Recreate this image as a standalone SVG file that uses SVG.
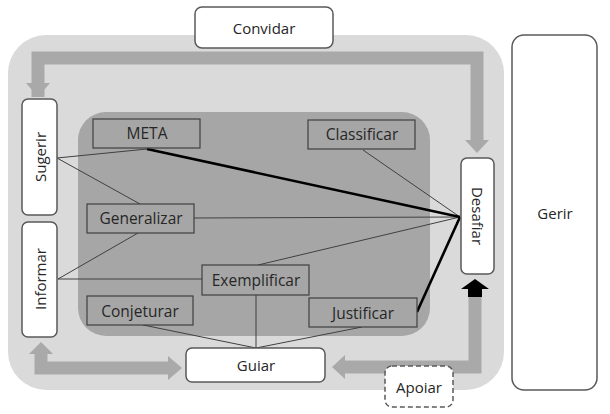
<svg xmlns="http://www.w3.org/2000/svg" width="610" height="414" viewBox="0 0 610 414">
<style>
.wb{fill:#fff;stroke:#595959;stroke-width:1.5}
.ib{fill:#a6a6a6;stroke:#404040;stroke-width:1.2}
.t{font-family:"Open Sans","Liberation Sans",sans-serif;font-size:15px;fill:#262626;text-anchor:middle;dominant-baseline:central}
.t2{font-size:15.5px}
.thin{stroke:#404040;stroke-width:1;fill:none}
.bold{stroke:#000;stroke-width:2.6;fill:none}
.shaft{stroke:#a9a9a9;stroke-width:13;fill:none;stroke-linejoin:miter}
.head{fill:#a9a9a9}
</style>
<rect width="610" height="414" fill="#fff"/>
<g id="background">
<rect x="8" y="35" width="496" height="355" rx="38" fill="#dadada"/>
<rect x="78" y="112" width="352" height="224" rx="28" fill="#a6a6a6"/>
</g>
<g id="connectors">
<path class="shaft" d="M38,97 V58 H477 V140"/>
<polygon class="head" points="26,83 50,83 38,97"/>
<polygon class="head" points="465,140 489,140 477,153"/>
<path class="shaft" d="M41,354 V368 H168"/>
<polygon class="head" points="29,354 53,354 41,342"/>
<polygon class="head" points="168,356 168,380 182,368"/>
<path class="shaft" d="M475,297 V367 H345"/>
<polygon class="head" points="345,355 345,379 332,367"/>
<polygon fill="#000" points="475,279 489,289 482,289 482,297 468,297 468,289 461,289"/>
<line class="thin" x1="57" y1="158" x2="147" y2="149"/>
<line class="thin" x1="57" y1="158" x2="140" y2="204"/>
<line class="thin" x1="58" y1="279" x2="138" y2="233"/>
<line class="thin" x1="58" y1="279" x2="202" y2="279"/>
<line class="thin" x1="363" y1="150" x2="460" y2="217"/>
<line class="thin" x1="194" y1="218" x2="460" y2="217"/>
<line class="thin" x1="258" y1="265" x2="460" y2="217"/>
<line class="thin" x1="143" y1="325" x2="256" y2="348"/>
<line class="thin" x1="256" y1="295" x2="256" y2="348"/>
<line class="thin" x1="362" y1="327" x2="256" y2="348"/>
<line class="bold" x1="147" y1="149" x2="460" y2="217"/>
<line class="bold" x1="417" y1="312" x2="460" y2="217"/>
</g>
<g id="convidar"><rect class="wb" x="195" y="7" width="138" height="41" rx="7"/><text class="t" x="264" y="28">Convidar</text></g>
<g id="sugerir"><rect class="wb" x="22" y="99" width="35" height="116" rx="6"/><text class="t" transform="translate(40,157) rotate(-90)">Sugerir</text></g>
<g id="informar"><rect class="wb" x="22" y="222" width="35" height="115" rx="6"/><text class="t" transform="translate(40,279) rotate(-90)">Informar</text></g>
<g id="desafiar"><rect class="wb" x="461" y="158" width="33" height="116" rx="6"/><text class="t" transform="translate(478,216) rotate(90)">Desafiar</text></g>
<g id="gerir"><rect class="wb" x="512" y="35" width="85" height="355" rx="12"/><text class="t" x="555" y="213">Gerir</text></g>
<g id="guiar"><rect class="wb" x="186" y="348" width="139" height="34" rx="6"/><text class="t" x="256" y="365">Guiar</text></g>
<g id="apoiar"><rect x="385" y="366" width="68" height="41" rx="7" fill="#fff" stroke="#595959" stroke-width="1.5" stroke-dasharray="5,3"/><text class="t" x="419" y="387">Apoiar</text></g>
<g id="meta"><rect class="ib" x="93" y="119" width="107" height="29"/><text class="t t2" x="147" y="133">META</text></g>
<g id="classificar"><rect class="ib" x="308" y="120" width="107" height="29"/><text class="t t2" x="362" y="134">Classificar</text></g>
<g id="generalizar"><rect class="ib" x="87" y="204" width="107" height="29"/><text class="t t2" x="141" y="218">Generalizar</text></g>
<g id="exemplificar"><rect class="ib" x="202" y="265" width="107" height="30"/><text class="t t2" x="256" y="280">Exemplificar</text></g>
<g id="conjeturar"><rect class="ib" x="87" y="296" width="106" height="29"/><text class="t t2" x="140" y="311">Conjeturar</text></g>
<g id="justificar"><rect class="ib" x="309" y="298" width="108" height="29"/><text class="t t2" x="363" y="313">Justificar</text></g>
</svg>
